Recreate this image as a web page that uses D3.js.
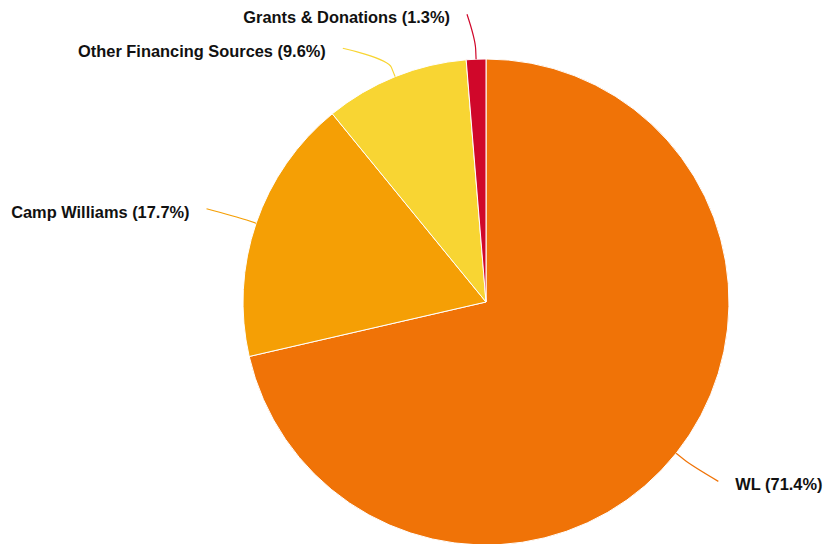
<!DOCTYPE html>
<html>
<head>
<meta charset="utf-8">
<script src="https://cdn.jsdelivr.net/npm/d3@7"></script>
<style>
  body { margin: 0; background: #fff; }
  .lbl { font-family: "Liberation Sans", Arial, Helvetica, sans-serif; font-weight: bold; font-size: 16.4px; fill: #111; }
</style>
</head>
<body>
<div id="chart"></div>
<script>
var categories = ["WL", "Camp Williams", "Other Financing Sources", "Grants & Donations"];
var shares = [71.4, 17.7, 9.6, 1.3];
var colors = ["#f07307", "#f59f05", "#f8d533", "#d0072a"];

var w = 824, h = 544;
var cx = 486, cy = 302, r = 243;
var labelR = 288, labelShift = 7;

var svg = d3.select("#chart").append("svg")
  .attr("width", w)
  .attr("height", h);

var g = svg.append("g").attr("transform", "translate(" + cx + "," + cy + ")");

var pie = d3.pie().sort(null).value(function(d) { return d; });
var arcs = pie(shares);
var arc = d3.arc().innerRadius(0).outerRadius(r);

g.selectAll("path.slice")
  .data(arcs)
  .enter()
  .append("path")
  .attr("class", "slice")
  .attr("d", arc)
  .attr("fill", function(d, i) { return colors[i]; })
  .attr("stroke", "#fff")
  .attr("stroke-width", 1);

// label positions, pushed apart like the original
var labels = arcs.map(function(d, i) {
  var a = (d.startAngle + d.endAngle) / 2;
  return { i: i, a: a, side: Math.sin(a) < 0 ? -1 : 1, y: -labelR * Math.cos(a) };
});
["-1", "1"].forEach(function(s) {
  var side = labels.filter(function(l) { return l.side == +s; })
    .sort(function(p, q) { return p.y - q.y; });
  for (var k = 1; k < side.length; k++) {
    if (side[k].y - side[k - 1].y < 34) side[k].y = side[k - 1].y + 34;
  }
});
labels.forEach(function(l) {
  var dy = Math.min(Math.abs(l.y), labelR);
  l.x = l.side * (Math.sqrt(labelR * labelR - dy * dy) + labelShift);
  if (dy > labelR - 1) l.x = -19; // top label sits just left of centre
});

var conn = g.selectAll("path.conn")
  .data(labels)
  .enter()
  .append("path")
  .attr("class", "conn")
  .attr("fill", "none")
  .attr("stroke", function(d) { return colors[d.i]; })
  .attr("stroke-width", 1.2)
  .attr("d", function(d) {
    var ex = r * Math.sin(d.a), ey = -r * Math.cos(d.a);
    var bx = (r + 10) * Math.sin(d.a), by = -(r + 10) * Math.cos(d.a);
    return "M" + d.x + "," + d.y +
      "C" + d.x + "," + d.y + " " + (2 * bx - ex) + "," + (2 * by - ey) + " " + bx + "," + by +
      "L" + ex + "," + ey;
  });

g.selectAll("text.lbl")
  .data(labels)
  .enter()
  .append("text")
  .attr("class", "lbl")
  .attr("x", function(d) { return d.x + d.side * 17; })
  .attr("y", function(d) { return d.y + 9; })
  .attr("text-anchor", function(d) { return d.side < 0 ? "end" : "start"; })
  .text(function(d) { return categories[d.i] + " (" + shares[d.i].toFixed(1) + "%)"; });
</script>
</body>
</html>
